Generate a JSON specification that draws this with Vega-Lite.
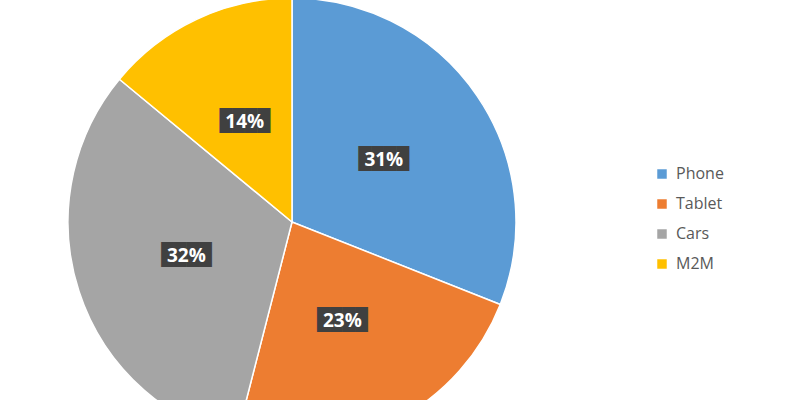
{
  "$schema": "https://vega.github.io/schema/vega-lite/v6.json",
  "width": 791,
  "height": 444,
  "autosize": "none",
  "padding": 0,
  "background": "white",
  "data": {"values": [
    {"device": "Phone", "share": 31, "label": "31%", "box": "████", "ord": 1},
    {"device": "Tablet", "share": 23, "label": "23%", "box": "████", "ord": 2},
    {"device": "Cars", "share": 32, "label": "32%", "box": "████", "ord": 3},
    {"device": "M2M", "share": 14, "label": "14%", "box": "████", "ord": 4}
  ]},
  "encoding": {
    "theta": {"field": "share", "type": "quantitative", "stack": true},
    "order": {"field": "ord", "type": "quantitative"}
  },
  "layer": [
    {
      "mark": {"type": "arc", "outerRadius": 224, "x": 292, "y": 222, "stroke": "white", "strokeWidth": 1.5},
      "encoding": {
        "color": {
          "field": "device", "type": "nominal",
          "scale": {"domain": ["Phone", "Tablet", "Cars", "M2M"], "range": ["#5B9BD5", "#ED7D31", "#A5A5A5", "#FFC000"]},
          "legend": {
            "title": null, "orient": "none", "legendX": 654, "legendY": 166,
            "symbolType": "square", "symbolSize": 90, "symbolStrokeWidth": 0,
            "labelFontSize": 16, "labelFont": "Open Sans", "labelColor": "#595959",
            "rowPadding": 14, "labelOffset": 6
          }
        }
      }
    },
    {
      "mark": {"type": "text", "radius": 111, "x": 292, "y": 222, "font": "DejaVu Sans Mono", "fontSize": 21, "color": "#404040", "align": "center", "baseline": "middle"},
      "encoding": {"text": {"field": "box"}}
    },
    {
      "mark": {"type": "text", "radius": 111, "x": 292, "y": 222, "font": "Open Sans", "fontWeight": "bold", "fontSize": 19, "color": "white", "align": "center", "baseline": "middle"},
      "encoding": {"text": {"field": "label"}}
    }
  ]
}
